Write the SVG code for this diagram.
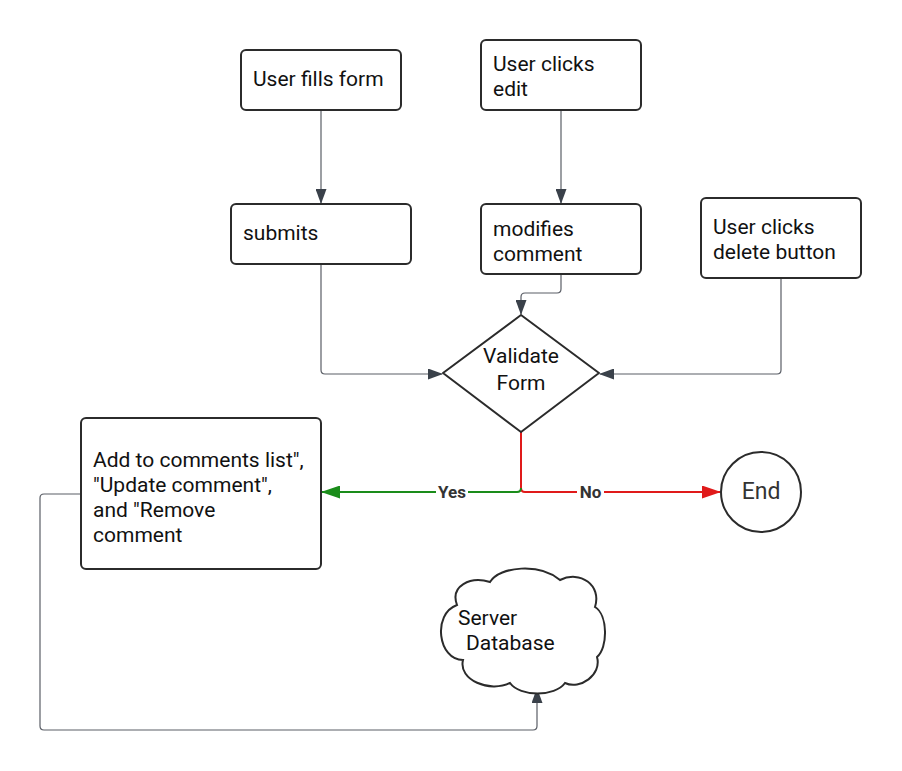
<svg xmlns="http://www.w3.org/2000/svg" width="902" height="771" viewBox="0 0 902 771">
<style>
.box{fill:#fff;stroke:#2b2b2b;stroke-width:2}
.t{font-family:Roboto,"Liberation Sans",sans-serif;font-size:21px;fill:#111}
.c{fill:none;stroke:#5a5e66;stroke-width:1.2}
.lbl{font-family:Roboto,"Liberation Sans",sans-serif;font-size:17px;font-weight:bold;fill:#333}
</style>
<defs>
<marker id="ah" markerUnits="userSpaceOnUse" markerWidth="15" markerHeight="11" viewBox="0 0 15 11" refX="14" refY="5.5" orient="auto"><path d="M0,0 L15,5.5 L0,11 Z" fill="#3a414a"/></marker>
<marker id="ahr" markerUnits="userSpaceOnUse" markerWidth="19" markerHeight="13" viewBox="0 0 19 13" refX="18" refY="6.5" orient="auto"><path d="M0,0 L19,6.5 L0,13 Z" fill="#e01a1a"/></marker>
<marker id="ahg" markerUnits="userSpaceOnUse" markerWidth="19" markerHeight="13" viewBox="0 0 19 13" refX="18" refY="6.5" orient="auto"><path d="M0,0 L19,6.5 L0,13 Z" fill="#1a8c1a"/></marker>
</defs>
<rect width="902" height="771" fill="#fff"/>
<g id="connectors">
<path class="c" d="M321,110 V203" marker-end="url(#ah)"/>
<path class="c" d="M561,110 V203" marker-end="url(#ah)"/>
<path class="c" d="M561,274 V289 Q561,293 557,293 H525 Q521,293 521,297 V314" marker-end="url(#ah)"/>
<path class="c" d="M321,264 V370 Q321,374 325,374 H442" marker-end="url(#ah)"/>
<path class="c" d="M781,279 V370 Q781,374 777,374 H600" marker-end="url(#ah)"/>
<path d="M521,432 V488 Q521,492 525,492 H720" fill="none" stroke="#e01a1a" stroke-width="2" marker-end="url(#ahr)"/>
<path d="M521,488 Q521,492 517,492 H322" fill="none" stroke="#1a8c1a" stroke-width="2" marker-end="url(#ahg)"/>
<path class="c" d="M81,494 H44 Q40,494 40,498 V726 Q40,730 44,730 H533 Q537,730 537,726 V689" marker-end="url(#ah)"/>
<rect x="436" y="483" width="32" height="18" fill="#fff"/>
<text class="lbl" x="452" y="498" text-anchor="middle">Yes</text>
<rect x="577" y="483" width="27" height="18" fill="#fff"/>
<text class="lbl" x="590.5" y="498" text-anchor="middle">No</text>
</g>
<g id="n1"><rect class="box" x="241" y="50" width="160" height="60" rx="5"/><text class="t" x="253" y="86">User fills form</text></g>
<g id="n2"><rect class="box" x="481" y="40" width="160" height="70" rx="5"/><text class="t" x="493" y="71">User clicks</text><text class="t" x="493" y="96">edit</text></g>
<g id="n3"><rect class="box" x="231" y="204" width="180" height="60" rx="5"/><text class="t" x="243" y="240">submits</text></g>
<g id="n4"><rect class="box" x="481" y="204" width="160" height="70" rx="5"/><text class="t" x="493" y="236">modifies</text><text class="t" x="493" y="261">comment</text></g>
<g id="n5"><rect class="box" x="701" y="198" width="160" height="80" rx="5"/><text class="t" x="713" y="234">User clicks</text><text class="t" x="713" y="259">delete button</text></g>
<g id="n6"><path class="box" d="M521,315 L599,373 L521,432 L443,373 Z" stroke-linejoin="round"/><text class="t" x="521" y="363" text-anchor="middle">Validate</text><text class="t" x="521" y="390" text-anchor="middle">Form</text></g>
<g id="n7"><circle class="box" cx="761" cy="492" r="40"/><text class="t" x="761" y="499" text-anchor="middle" style="font-size:23px;fill:#333">End</text></g>
<g id="n8"><rect class="box" x="81" y="418" width="240" height="151" rx="5"/><text class="t" x="93" y="467">Add to comments list",</text><text class="t" x="93" y="492">"Update comment",</text><text class="t" x="93" y="517">and "Remove</text><text class="t" x="93" y="542">comment</text></g>
<g id="n9"><path class="box" d="M457,605 C450,586 470,576 490,582 C500,566 540,563 560,580 C580,570 602,585 595,607 C608,615 608,648 597,657 C602,675 580,690 565,683 C555,697 520,697 510,683 C490,693 458,680 463,660 C438,660 432,614 457,605 Z"/><text class="t" x="458" y="625">Server</text><text class="t" x="466" y="650">Database</text></g>
</svg>
